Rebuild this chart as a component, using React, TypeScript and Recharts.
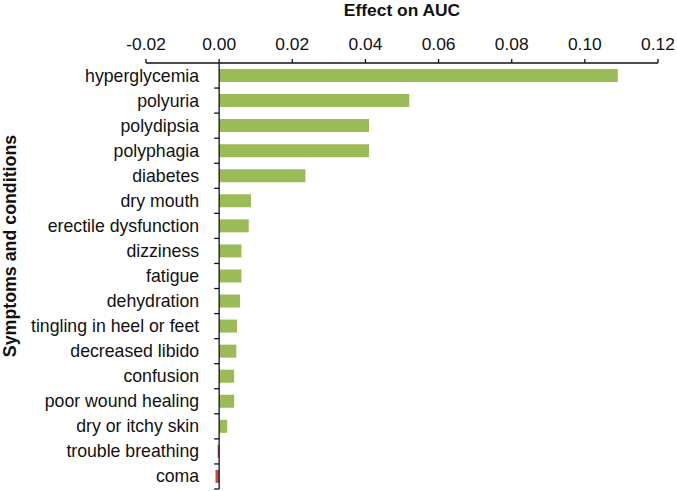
import { BarChart, Bar, XAxis, YAxis, Cell, ReferenceLine, Label } from 'recharts'

const symptoms = [
  'hyperglycemia',
  'polyuria',
  'polydipsia',
  'polyphagia',
  'diabetes',
  'dry mouth',
  'erectile dysfunction',
  'dizziness',
  'fatigue',
  'dehydration',
  'tingling in heel or feet',
  'decreased libido',
  'confusion',
  'poor wound healing',
  'dry or itchy skin',
  'trouble breathing',
  'coma'
]

const effects = [
  0.109, 0.052, 0.041, 0.041, 0.0236, 0.0087, 0.0081, 0.0061, 0.0061, 0.0057,
  0.0049, 0.0047, 0.0041, 0.0041, 0.0022, -0.0004, -0.001
]

const xTicks = [-0.02, 0, 0.02, 0.04, 0.06, 0.08, 0.1, 0.12]

const W = 677
const H = 491
const LEFT = 146
const RIGHT = 19
const TOP = 63
const BOTTOM = 2
const X_MIN = -0.02
const X_MAX = 0.12
const FONT = '"Liberation Sans", Arial, sans-serif'

// pixel position of the zero line, where the category labels hang
const zeroX = LEFT + ((0 - X_MIN) / (X_MAX - X_MIN)) * (W - LEFT - RIGHT)
const band = (H - TOP - BOTTOM) / symptoms.length

const chartData = symptoms.map((name, i) => ({ name, value: effects[i] }))

function CategoryTick(props: any) {
  const { y, payload } = props
  return (
    <g>
      <text
        x={zeroX - 20}
        y={y}
        textAnchor="end"
        dominantBaseline="central"
        fontSize={17.7}
        fontFamily={FONT}
        fill="#111"
      >
        {payload.value}
      </text>
      <line
        x1={zeroX - 5}
        x2={zeroX}
        y1={y + band / 2}
        y2={y + band / 2}
        stroke="#111"
        strokeWidth={1.3}
      />
    </g>
  )
}

function SideTitle() {
  const cx = 10
  const cy = 246
  return (
    <text
      x={cx}
      y={cy}
      transform={`rotate(-90, ${cx}, ${cy})`}
      textAnchor="middle"
      dominantBaseline="central"
      fontSize={17.8}
      fontWeight="bold"
      fontFamily={FONT}
      fill="#111"
    >
      Symptoms and conditions
    </text>
  )
}

export default function App() {
  return (
    <div style={{ position: 'absolute', left: 0, top: 0, width: W, height: H, background: '#fff' }}>
      <BarChart
        width={W}
        height={H}
        data={chartData}
        layout="vertical"
        margin={{ top: TOP - 30, right: RIGHT, left: 0, bottom: BOTTOM }}
        barCategoryGap={0}
      >
        <XAxis
          type="number"
          orientation="top"
          domain={[X_MIN, X_MAX]}
          ticks={xTicks}
          allowDataOverflow
          height={30}
          stroke="#111"
          strokeWidth={1.3}
          tickSize={4}
          tickMargin={9}
          tick={{ fill: '#111', fontSize: 17.4, fontFamily: FONT }}
          tickFormatter={(v: number) => v.toFixed(2)}
        >
          <Label
            value="Effect on AUC"
            position="top"
            offset={17}
            fill="#111"
            fontSize={17.4}
            fontWeight="bold"
            fontFamily={FONT}
          />
        </XAxis>
        <YAxis
          type="category"
          dataKey="name"
          width={LEFT}
          axisLine={false}
          tickLine={false}
          interval={0}
          tick={<CategoryTick />}
        >
          <Label content={<SideTitle />} />
        </YAxis>
        <ReferenceLine x={0} stroke="#111" strokeWidth={1.3} />
        <Bar dataKey="value" barSize={13} isAnimationActive={false}>
          {chartData.map((d) => (
            <Cell key={d.name} fill={d.value < 0 ? '#C0504D' : '#9BBB59'} />
          ))}
        </Bar>
      </BarChart>
    </div>
  )
}
